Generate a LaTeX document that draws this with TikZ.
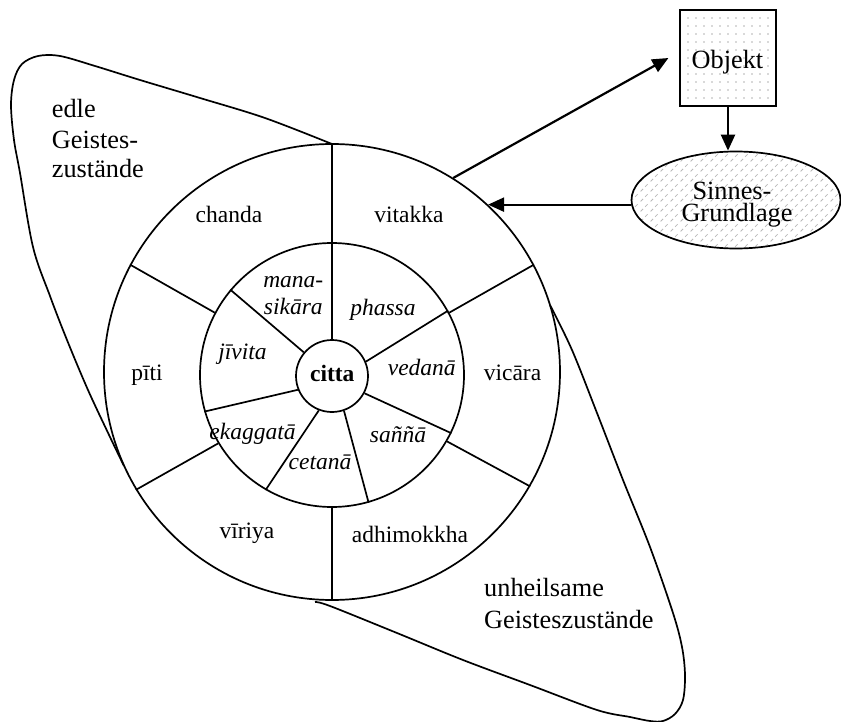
\documentclass[tikz,border=0pt]{standalone}
\usepackage{fontspec}
\setmainfont{Liberation Serif}
\usetikzlibrary{arrows.meta,shapes.geometric,patterns.meta}
\pgfdeclarepattern{
  name=dashhatch,
  type=uncolored,
  bottom left={\pgfpoint{0pt}{0pt}},
  top right={\pgfpoint{10pt}{10pt}},
  tile size={\pgfpoint{10pt}{10pt}},
  code={
    \pgfsetlinewidth{0.8pt}
    \pgfpathmoveto{\pgfpoint{0.6pt}{0.6pt}}
    \pgfpathlineto{\pgfpoint{3.4pt}{3.4pt}}
    \pgfpathmoveto{\pgfpoint{5.6pt}{5.6pt}}
    \pgfpathlineto{\pgfpoint{8.4pt}{8.4pt}}
    \pgfusepath{stroke}
  }
}
\begin{document}
\begin{tikzpicture}[x=1pt,y=-1pt,
  ln/.style={line width=1.7pt},
  arr/.style={line width=2.2pt,-{Triangle[length=16pt,width=14pt]}},
  lbl/.style={font=\fontsize{23.5}{28}\selectfont, anchor=base, inner sep=0},
  ilbl/.style={lbl, font=\fontsize{23.5}{28}\selectfont\itshape},
  big/.style={font=\fontsize{26.3}{30}\selectfont, anchor=base, inner sep=0},
  bigl/.style={big, anchor=base west},
  ring/.style={circle, draw, line width=1.7pt, inner sep=0}
]
\useasboundingbox (0,0) rectangle (841,722);

% loops
\draw[ln, line join=round] plot[smooth, tension=0.55] coordinates {
  (332,144) (265,118) (200,98) (140,80) (95,66) (60,56) (38,56) (22,64)
  (14,80) (11,105) (14,140) (20,173) (33,247) (50,296) (67,340) (88,390)
  (110,437) (124,466)};
\draw[ln, line join=round] plot[smooth, tension=0.55] coordinates {
  (550,305) (572,350) (597,413) (623,480) (650,547) (673,613) (682,647)
  (685,675) (683,700) (675,714) (663,721) (650,721) (630,717) (597,710)
  (530,685) (463,660) (397,633) (330,606) (315,602)};

% circles
\node[ring, minimum size=456pt] (outer) at (332,372) {};
\node[ring, minimum size=264pt] (inner) at (332,375) {};
\node[ring, minimum size=72pt] (citta) at (332,376) {};

% outer spokes
\draw[ln] (inner.90) -- (outer.90);
\draw[ln] (inner.28.7) -- (outer.28.7);
\draw[ln] (inner.-30.7) -- (outer.-30.7);
\draw[ln] (inner.-90) -- (outer.-90);
\draw[ln] (inner.211) -- (outer.211);
\draw[ln] (inner.152.3) -- (outer.152.3);

% inner spokes
\draw[ln] (citta.90) -- (inner.90);
\draw[ln] (citta.23.4) -- (inner.29.5);
\draw[ln] (citta.-28) -- (inner.-26.7);
\draw[ln] (citta.-71.5) -- (inner.-74.8);
\draw[ln] (citta.-111.7) -- (inner.-120.2);
\draw[ln] (citta.202.4) -- (inner.196.5);
\draw[ln] (citta.140.9) -- (inner.140.8);

% outer ring labels
\node[lbl] (chanda) at (229,223) {chanda};
\node[lbl] (vitakka) at (409,223) {vitakka};
\node[lbl] (piti) at (147,380) {pīti};
\node[lbl] (vicara) at (512.5,380.7) {vicāra};
\node[lbl] (viriya) at (247,538) {vīriya};
\node[lbl] (adhi) at (410,542) {adhimokkha};

% inner ring labels
\node[ilbl] (mana) at (293.3,287.7) {mana-};
\node[ilbl] (sikara) at (293.3,314.3) {sikāra};
\node[ilbl] (phassa) at (383,316) {phassa};
\node[ilbl] (jivita) at (242.5,359) {jīvita};
\node[ilbl] (vedana) at (421.8,375.7) {vedanā};
\node[ilbl] (ekagg) at (252.5,439.3) {ekaggatā};
\node[ilbl] (sanna) at (398,442.7) {saññā};
\node[ilbl] (cetana) at (320,469.3) {cetanā};
\node[lbl, font=\fontsize{23.5}{28}\selectfont\bfseries] (cittaT) at (332.3,381.7) {citta};

% outer texts
\node[bigl] (edle1) at (51.7,117.3) {edle};
\node[bigl] (edle2) at (51.7,149) {Geistes-};
\node[bigl] (edle3) at (51.7,177.3) {zustände};
\node[bigl] (unh1) at (484,596.7) {unheilsame};
\node[bigl] (unh2) at (484,628.3) {Geisteszustände};

% Objekt and Sinnes-Grundlage
\node[draw, line width=1.8pt, minimum size=96pt, inner sep=0,
  pattern={Dots[distance=8pt,radius=0.9pt]}, pattern color=black!30] (obj) at (728,58) {};
\node[big] (objT) at (727.5,68.3) {Objekt};
\node[ellipse, draw, line width=1.7pt, minimum width=209pt, minimum height=97pt, inner sep=0,
  pattern=dashhatch, pattern color=black!28] (sinn) at (736,200) {};
\node[big, align=center, font=\fontsize{26.3}{22.5}\selectfont] (sinnT) at (737,222)
  {Sinnes-\hspace{10pt}\null\\Grundlage};

% arrows
\draw[arr] (outer.58.4) -- ([xshift=-10.7pt]obj.west);
\draw[arr] (obj.south) -- (obj.south |- sinn.north);
\draw[arr] (sinn.west |- outer.47.4) -- (outer.47.4);
\end{tikzpicture}
\end{document}
